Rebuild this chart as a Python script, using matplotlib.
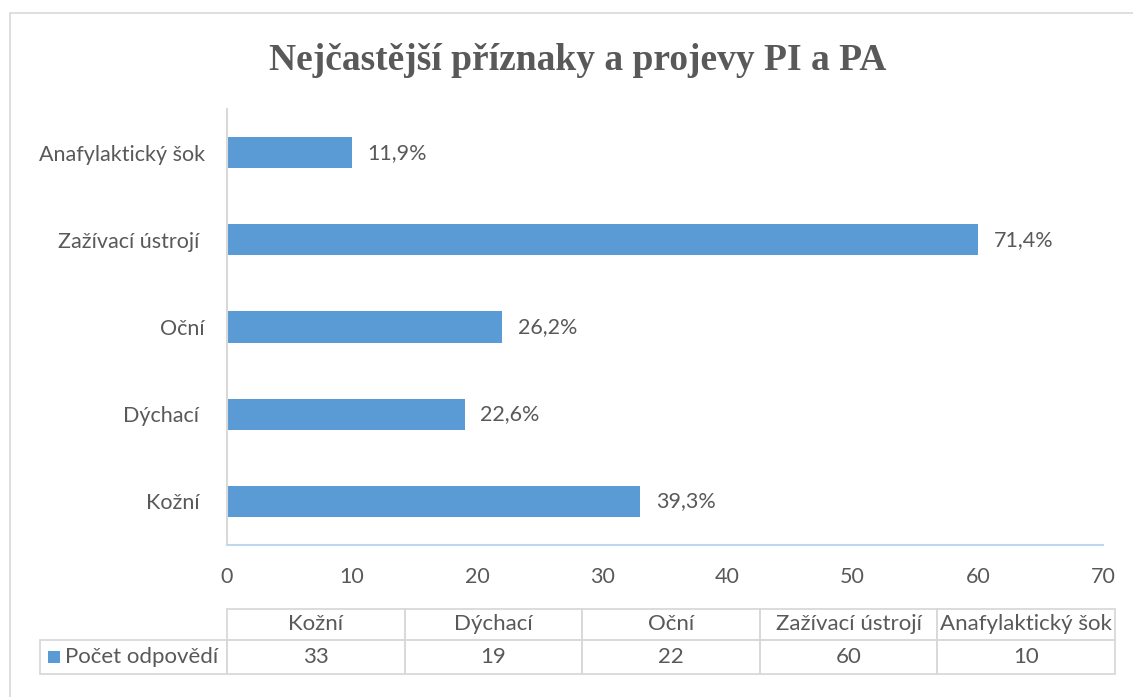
import matplotlib
matplotlib.use("Agg")
import matplotlib.pyplot as plt
from matplotlib.patches import Rectangle

categories = ["Kožní ", "Dýchací ", "Oční", "Zažívací ústrojí ", "Anafylaktický šok"]
values = [33, 19, 22, 60, 10]
respondents = 84
series_name = "Počet odpovědí"
title = "Nejčastější příznaky a projevy PI a PA"

bar_color = "#5B9BD5"
text_color = "#595959"
grid_gray = "#D9D9D9"

plt.rcParams["font.family"] = ["Lato", "DejaVu Sans"]

W, H = 1133, 697
fig = plt.figure(figsize=(W / 100, H / 100), dpi=100)
ax = fig.add_axes([227 / W, 1 - 545 / H, 876 / W, 436 / H])

# chart frame
fig.patches.append(Rectangle((0.009, -0.05), 1.1, 1.05 - 13 / H,
                             transform=fig.transFigure, fill=False,
                             edgecolor=grid_gray, lw=1.2))

y = range(len(categories))
ax.barh(y, values, height=0.36, color=bar_color)
for yi, v in zip(y, values):
    ax.text(v + 1.25, yi, f"{v / respondents * 100:.1f}%".replace(".", ","),
            va="center", ha="left", fontsize=15.5, color=text_color)

ax.set_xlim(0, 70)
ax.set_ylim(-0.5, len(categories) - 0.5)
ax.set_xticks(range(0, 71, 10))
ax.set_yticks(list(y))
ax.set_yticklabels(categories)
ax.tick_params(axis="both", length=0, labelsize=15.5, labelcolor=text_color)
ax.tick_params(axis="y", pad=16)
ax.tick_params(axis="x", pad=16)
for s in ["top", "right"]:
    ax.spines[s].set_visible(False)
ax.spines["left"].set_color(grid_gray)
ax.spines["left"].set_linewidth(1.5)
ax.spines["bottom"].set_color("#BDD7EE")
ax.spines["bottom"].set_linewidth(1.5)

fig.text(0.51, 0.913, title, ha="center", va="center", fontsize=27,
         fontweight="bold", family="Liberation Serif", color=text_color)

# data table under the axis (axes coordinates)
t_top, t_mid, t_bot = -(609 - 545) / 436, -(640 - 545) / 436, -(674 - 545) / 436
col_w = 888 / 876 / len(categories)
lab_x0 = -(227 - 40) / 876
cell_kw = dict(transform=ax.transAxes, clip_on=False, fill=False,
               edgecolor=grid_gray, lw=1.3)
for i, (cat, v) in enumerate(zip(categories, values)):
    x0 = i * col_w
    ax.add_patch(Rectangle((x0, t_mid), col_w, t_top - t_mid, **cell_kw))
    ax.add_patch(Rectangle((x0, t_bot), col_w, t_mid - t_bot, **cell_kw))
    ax.text(x0 + col_w / 2, (t_top + t_mid) / 2, cat.strip(), transform=ax.transAxes,
            ha="center", va="center", fontsize=16, color=text_color)
    ax.text(x0 + col_w / 2, (t_mid + t_bot) / 2, str(v), transform=ax.transAxes,
            ha="center", va="center", fontsize=16, color=text_color)
ax.add_patch(Rectangle((lab_x0, t_bot), -lab_x0, t_mid - t_bot, **cell_kw))
ax.add_patch(Rectangle((lab_x0 + 8 / 876, (t_mid + t_bot) / 2 - 6 / 436), 12 / 876, 12 / 436,
                       transform=ax.transAxes, clip_on=False, color=bar_color, lw=0))
ax.text(lab_x0 + 25 / 876, (t_mid + t_bot) / 2, series_name, transform=ax.transAxes,
        ha="left", va="center", fontsize=16, color=text_color)

fig.savefig("out.png", dpi=100)
